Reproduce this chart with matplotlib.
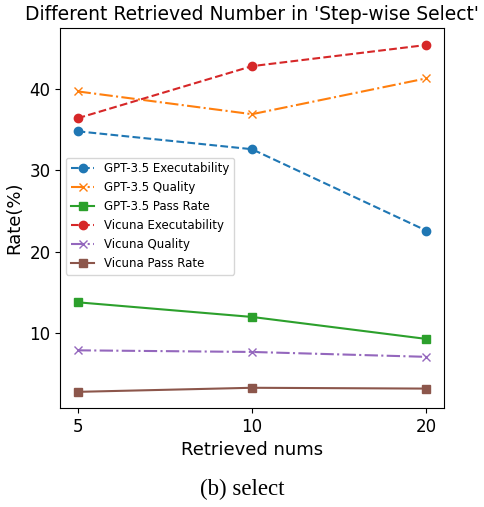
import matplotlib
matplotlib.use("Agg")
import matplotlib.pyplot as plt

# x 轴类别
nums = ["5", "10", "20"]

gpt_exec = [34.8, 32.6, 22.6]
gpt_quality = [39.7, 36.9, 41.3]
gpt_pass = [13.8, 12.0, 9.3]
vic_exec = [36.4, 42.8, 45.4]
vic_quality = [7.9, 7.7, 7.1]
vic_pass = [2.8, 3.3, 3.2]

x = range(len(nums))

fig = plt.figure(figsize=(4.85, 5.07), dpi=100)
ax = fig.add_axes([0.124, 0.195, 0.791, 0.75])

ax.plot(x, gpt_exec, '--o', color='tab:blue', label='GPT-3.5 Executability')
ax.plot(x, gpt_quality, '-.x', color='tab:orange', label='GPT-3.5 Quality')
ax.plot(x, gpt_pass, '-s', color='tab:green', label='GPT-3.5 Pass Rate')
ax.plot(x, vic_exec, '--o', color='tab:red', label='Vicuna Executability')
ax.plot(x, vic_quality, '-.x', color='tab:purple', label='Vicuna Quality')
ax.plot(x, vic_pass, '-s', color='tab:brown', label='Vicuna Pass Rate')

ax.set_xticks(list(x))
ax.set_xticklabels(nums)
ax.set_yticks([10, 20, 30, 40])
ax.set_ylim(0.8, 47.5)
ax.tick_params(labelsize=12)
ax.set_xlabel("Retrieved nums", fontsize=13)
ax.set_ylabel("Rate(%)", fontsize=13)
ax.set_title("Different Retrieved Number in 'Step-wise Select'", fontsize=13.5)
ax.legend(fontsize=8.5, loc='center left', bbox_to_anchor=(0.0, 0.505))

fig.text(0.5, 0.034, "(b) select", ha='center', va='center', fontsize=16.5,
         family='Liberation Serif')

plt.savefig("out.png", dpi=100)
